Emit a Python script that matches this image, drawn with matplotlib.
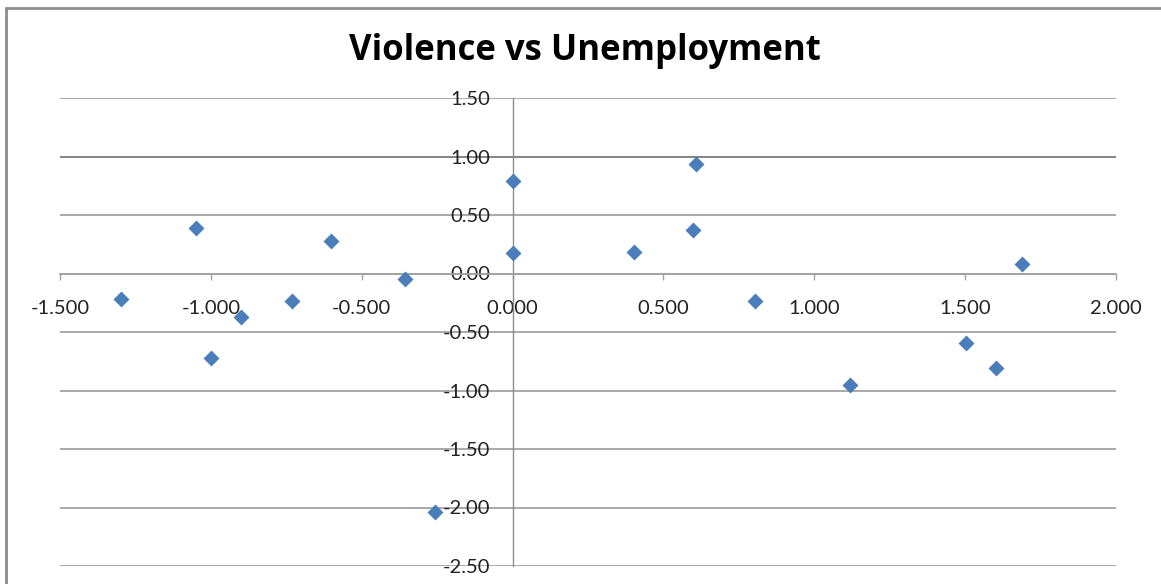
import matplotlib
matplotlib.use('Agg')
from matplotlib import pyplot as plt
from matplotlib.patches import Rectangle

# standardised scores, one point per region
unemployment = [-1.297, -1.048, -1.001, -0.899, -0.731, -0.601, -0.358, -0.256, 0.001, 0.001,
                0.402, 0.609, 0.598, 0.802, 1.120, 1.504, 1.603, 1.688]
violence = [-0.216, 0.390, -0.718, -0.373, -0.239, 0.282, -0.051, -2.040, 0.789, 0.174,
            0.182, 0.938, 0.373, -0.239, -0.949, -0.592, -0.806, 0.083]

x_ticks = [-1.5, -1.0, -0.5, 0.0, 0.5, 1.0, 1.5, 2.0]
y_ticks = [-2.5, -2.0, -1.5, -1.0, -0.5, 0.0, 0.5, 1.0, 1.5]

W, H = 1161, 584
plt.rcParams['font.family'] = ['Lato', 'DejaVu Sans']
fig = plt.figure(figsize=(W / 100, H / 100), dpi=100)
ax = fig.add_axes([60 / W, 1 - 566 / H, (1116 - 60) / W, (566 - 98) / H])

grid_col = '#a3a3a3'
ax.scatter(unemployment, violence, marker='D', s=66, color='#4a7ebb', zorder=5, linewidths=0)

ax.set_xlim(-1.5, 2.0)
ax.set_ylim(-2.5, 1.5)
ax.set_xticks(x_ticks)
ax.set_yticks(y_ticks)
ax.set_xticklabels(['{:.3f}'.format(v) for v in x_ticks])
ax.set_yticklabels(['{:.2f}'.format(v) for v in y_ticks])

for side in ['top', 'right']:
    ax.spines[side].set_visible(False)
ax.spines['bottom'].set_position(('data', 0))
ax.spines['left'].set_position(('data', 0))
ax.spines['bottom'].set_color(grid_col)
ax.spines['left'].set_color('#8c8c8c')
ax.spines['bottom'].set_linewidth(1.3)
ax.spines['left'].set_linewidth(1.0)

ax.tick_params(axis='x', direction='out', length=4, width=1, color=grid_col,
               pad=15, labelsize=14.5, labelcolor='#222222')
ax.tick_params(axis='y', length=0, pad=16, labelsize=14.5, labelcolor='#222222')

ax.grid(True, axis='y', color=grid_col, linewidth=1.3)
ax.set_axisbelow(True)
ax.get_ygridlines()[7].set_color('#7a7a7a')

# chart area frame
fig.add_artist(Rectangle((6 / W, -0.2), 2, 1.2 - 8 / H, transform=fig.transFigure,
                         fill=False, edgecolor='#8c8c8c', linewidth=2))

fig.text(585 / W, 1 - 60 / H, 'Violence vs Unemployment', ha='center', va='baseline',
         fontsize=25, fontweight='bold', color='black', family=['Open Sans', 'DejaVu Sans'])

fig.savefig('out.png', dpi=100)
